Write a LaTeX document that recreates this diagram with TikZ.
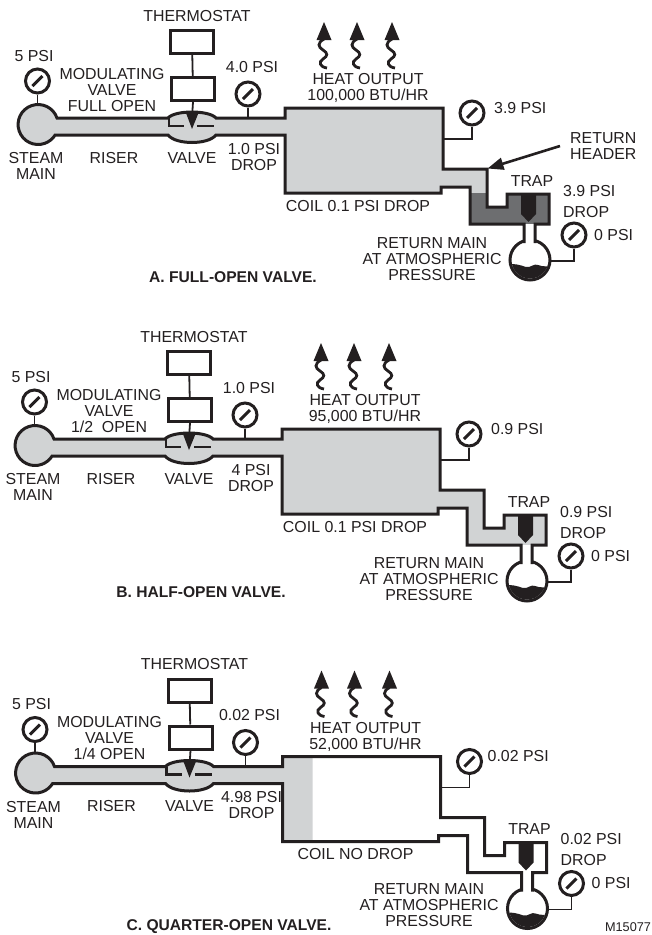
\documentclass[tikz,border=0pt]{standalone}
\usepackage{fontspec}
\setmainfont{Liberation Sans}
\usepackage{tikz}
\usetikzlibrary{calc,arrows.meta}

\definecolor{ink}{HTML}{231F20}
\definecolor{steamgray}{HTML}{D1D3D4}
\definecolor{condgray}{HTML}{6D6E70}

\tikzset{
  pipeline/.style={draw=ink,line width=3pt},
  stemline/.style={draw=ink,line width=1.8pt},
  gaugebox/.style={circle,draw=ink,line width=3pt,fill=white,minimum size=24pt,inner sep=0pt},
  ctrlbox/.style={rectangle,draw=ink,line width=3pt,fill=white,minimum width=43pt,minimum height=23pt,inner sep=0pt},
  lbl/.style={font=\fontsize{15.9}{16}\selectfont,text=ink,align=center,inner sep=0pt},
  lblwest/.style={lbl,anchor=west},
  title/.style={font=\fontsize{15.6}{16}\selectfont\bfseries,text=ink,inner sep=0pt},
}

% whole steam side, from the flask neck round to the flask neck
\def\pipepath{(535,-243) -- (535,-224) -- (549,-224) -- (549,-194) -- (507,-194) -- (507,-207)
  -- (487,-207) -- (487,-169) -- (443,-169) -- (443,-108) -- (285,-108) -- (285,-118) -- (216,-118)
  .. controls (209,-110) and (175,-110) .. (168,-118) -- (57,-118)
  arc[start angle=19,end angle=328.3,radius=20] -- (168,-135)
  .. controls (176,-145) and (208,-145) .. (216,-135) -- (285,-135) -- (285,-193) -- (441,-193)
  -- (441,-187) -- (470,-187) -- (470,-224) -- (524,-224) -- (524,-243)}

\newcommand{\gaugeat}[3]{%
  \node[gaugebox] (#1) at (#2,#3) {};
  \draw[ink,line width=3pt] ($(#1)+(-5,-5)$) -- ($(#1)+(5,5)$);
}

\begin{document}
\begin{tikzpicture}[x=1pt,y=1pt]
  \useasboundingbox (0,0) rectangle (652,-935);

  % A: condensate backed up in the return
  \begin{scope}
    \fill[steamgray] \pipepath;
    \begin{scope}
      \clip (460,-193.5) rectangle (560,-230);
      \fill[condgray] \pipepath;
    \end{scope}
  \end{scope}
  % B: all steam
  \begin{scope}[shift={(-3,-321)}]
    \fill[steamgray] \pipepath;
  \end{scope}
  % C: steam only in the first part of the coil
  \begin{scope}[shift={(-2.5,-648.5)}]
    \begin{scope}
      \clip (0,-90) rectangle (315,-200);
      \fill[steamgray] \pipepath;
    \end{scope}
  \end{scope}

  % the three panels
  \foreach \id/\dx/\dy/\vopen/\inpsi/\droptxt/\heat/\coiltxt/\outpsi/\outx/\trappsi in {
      A/0/0/FULL OPEN/4.0 PSI/1.0 PSI/{100,000 BTU/HR}/COIL 0.1 PSI DROP/3.9 PSI/494/3.9 PSI,
      B/-3/-321/{1/2\ \ OPEN}/1.0 PSI/4 PSI/{95,000 BTU/HR}/COIL 0.1 PSI DROP/0.9 PSI/494/0.9 PSI,
      C/-2.5/-648.5/{1/4 OPEN}/0.02 PSI/4.98 PSI/{52,000 BTU/HR}/COIL NO DROP/0.02 PSI/490/0.02 PSI} {
  \begin{scope}[shift={(\dx,\dy)}]
    % flask
    \coordinate (flask\id) at (530,-260);
    \draw[pipeline,fill=white] (flask\id) circle (20);
    \begin{scope}
      \clip (flask\id) circle (18.5);
      \fill[ink] (505,-265) .. controls (515,-263) and (520,-265) .. (526,-267)
        .. controls (531,-268) and (534,-263) .. (538,-265)
        .. controls (543,-267) and (548,-266) .. (555,-267) -- (555,-285) -- (505,-285) -- cycle;
    \end{scope}
    \fill[white] (524,-224) rectangle (535,-243);

    \draw[pipeline] \pipepath;

    % valve seat and trap
    \draw[ink,line width=2.4pt] (169,-118) -- (169,-126) -- (184,-126);
    \draw[ink,line width=2.4pt] (197,-126) -- (214,-126);
    \fill[ink] (521,-194) -- (536,-194) -- (536,-214) -- (528.5,-222) -- (521,-214) -- cycle;

    % thermostat and valve top
    \node[ctrlbox] (thermo\id) at (192,-42) {};
    \node[ctrlbox] (motor\id) at (193,-89) {};
    \coordinate (stem\id) at (192,-118);
    \draw[stemline] (thermo\id) -- (motor\id);
    \draw[stemline] (motor\id.south) -- (stem\id);
    \fill[ink] (186,-113) -- (198.5,-113) -- (192,-129) -- cycle;

    % gauges
    \gaugeat{gaugeMain\id}{37.5}{-81}
    \coordinate (mainTop\id) at (37.5,-105);
    \draw[stemline] (gaugeMain\id) -- (mainTop\id);
    \gaugeat{gaugeIn\id}{248}{-94}
    \coordinate (inTap\id) at (248,-118);
    \draw[stemline] (gaugeIn\id) -- (inTap\id);
    \gaugeat{gaugeOut\id}{472}{-113}
    \coordinate (outTap\id) at (443,-139);
    \draw[stemline] (gaugeOut\id.south) |- (outTap\id);
    \gaugeat{gaugeRet\id}{574}{-235}
    \coordinate (retTap\id) at (550,-261);
    \draw[stemline] (gaugeRet\id.south) |- (retTap\id);

    % heat arrows
    \foreach \hx in {324,357,392} {
      \fill[ink] (\hx,-22) -- (\hx+7.5,-40) -- (\hx-7.5,-40) -- cycle;
      \draw[ink,line width=2.8pt] (\hx,-39) .. controls (\hx-7,-43) and (\hx-6,-47) .. (\hx-1,-50)
        .. controls (\hx+4,-53) and (\hx+4,-56) .. (\hx-1,-59)
        .. controls (\hx-6,-62) and (\hx-4,-67) .. (\hx+3,-68);
    }

    % labels
    \node[lbl] (thermoTxt\id) at (197,-16) {THERMOSTAT};
    \node[lbl] (mainPsi\id) at (34,-56) {5 PSI};
    \node[lbl] (modTxt\id) at (112,-90) {MODULATING\\VALVE\\\vopen};
    \node[lbl] (inPsi\id) at (252,-67) {\inpsi};
    \node[lbl] (steamTxt\id) at (36,-166) {STEAM\\MAIN};
    \node[lbl] (riserTxt\id) at (114,-158) {RISER};
    \node[lbl] (valveTxt\id) at (192,-158) {VALVE};
    \node[lbl] (dropTxt\id) at (254,-157) {\droptxt\\DROP};
    \node[lbl] (heatTxt\id) at (368,-88) {HEAT OUTPUT\\\heat};
    \node[lbl] (coilTxt\id) at (358,-206) {\coiltxt};
    \node[lblwest] (outPsi\id) at (\outx,-108) {\outpsi};
    \node[lbl] (trapTxt\id) at (532,-181) {TRAP};
    \node[lblwest] (trapPsi\id) at (563,-191) {\trappsi};
    \node[lblwest] (trapDrop\id) at (563,-212) {DROP};
    \node[lblwest] (retPsi\id) at (594,-235) {0 PSI};
  \end{scope}
  }

  % return main text sits a little differently in each panel
  \node[lbl] (retMainA) at (432,-259) {RETURN MAIN\\AT ATMOSPHERIC\\PRESSURE};
  \node[lbl] (retMainB) at (429,-579) {RETURN MAIN\\AT ATMOSPHERIC\\PRESSURE};
  \node[lbl] (retMainC) at (429,-905) {RETURN MAIN\\AT ATMOSPHERIC\\PRESSURE};

  % return header pointer
  \node[lblwest] (hdrTxt) at (570,-146) {RETURN\\HEADER};
  \coordinate (hdrCorner) at (487.5,-168.5);
  \draw[ink,line width=2.6pt,-{Triangle[length=16pt,width=12pt]}] ($(hdrTxt.west)+(-10,0)$) -- (hdrCorner);

  % panel titles
  \node[title] (titleA) at (233,-277) {A. FULL-OPEN VALVE.};
  \node[title] (titleB) at (201,-592) {B. HALF-OPEN VALVE.};
  \node[title] (titleC) at (229,-927) {C. QUARTER-OPEN VALVE.};
  \node[font=\fontsize{12.7}{14}\selectfont,text=ink,inner sep=0pt] (figId) at (628,-927) {M15077};
\end{tikzpicture}
\end{document}
